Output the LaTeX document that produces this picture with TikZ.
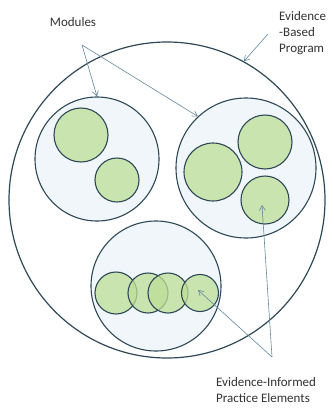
\documentclass[tikz,border=0pt]{standalone}
\usepackage{fontspec}
\setmainfont{Carlito}
\usetikzlibrary{arrows.meta, positioning}
\definecolor{ringblue}{RGB}{46, 72, 88}
\definecolor{modfill}{RGB}{240, 246, 250}
\definecolor{elemgreen}{RGB}{190, 222, 150}
\definecolor{pointergray}{RGB}{100, 136, 156}

\tikzset{
  program/.style={circle, draw=ringblue, line width=1.2pt, minimum size=316pt, inner sep=0pt},
  module/.style={circle, draw=ringblue, line width=1.1pt, fill=modfill, inner sep=0pt},
  element/.style={circle, draw=ringblue, line width=1.1pt, fill=elemgreen, fill opacity=0.75, draw opacity=1, inner sep=0pt},
  pointer/.style={draw=pointergray, line width=0.6pt, -{Straight Barb[length=5pt, width=6pt]}},
  label/.style={font=\fontsize{13}{16}\selectfont, text=black!80, align=left, inner sep=0pt}
}

\begin{document}
\begin{tikzpicture}[x=1pt, y=-1pt]
  \useasboundingbox[fill=white] (0,0) rectangle (333,408);

  % outer program
  \node[program] (prog) at (167,200) {};

  % modules
  \node[module, minimum size=124pt] (lmod) at (97,159) {};
  \node[module, minimum size=140pt] (rmod) at (246,168) {};
  \node[module, minimum size=130pt] (bmod) at (156,286) {};

  % practice elements
  \node[element, minimum size=54pt] (l1) at (81,135) {};
  \node[element, minimum size=44pt] (l2) at (117,180) {};
  \node[element, minimum size=58pt] (r1) at (213,172) {};
  \node[element, minimum size=54pt] (r2) at (265,142) {};
  \node[element, minimum size=48pt] (r3) at (265,200) {};
  \node[element, minimum size=42pt] (b1) at (116,293) {};
  \node[element, minimum size=40pt] (b2) at (148,293) {};
  \node[element, minimum size=40pt] (b3) at (168,293) {};
  \node[element, minimum size=37pt] (b4) at (200,293) {};

  % labels
  \node[label] (modlbl) at (73,22) {Modules};
  \node[label, anchor=west] (proglbl) at (279,33) {Evidence\\-Based\\Program};
  \node[label, anchor=west] (elemlbl) at (216,390) {Evidence-Informed\\Practice Elements};

  % pointers
  \coordinate (modtip) at (82,45);
  \coordinate (progtip) at (268,34);
  \coordinate (elemtip) at (272,357);
  \draw[pointer] (modtip) -- (lmod.north);
  \draw[pointer] (modtip) -- (rmod.133);
  \draw[pointer] (progtip) -- (prog.61);
  \draw[pointer] (elemtip) -- ([shift={(-3,5)}]r3.center);
  \draw[pointer] (elemtip) -- ([shift={(-2,-3)}]b4.center);
\end{tikzpicture}
\end{document}
